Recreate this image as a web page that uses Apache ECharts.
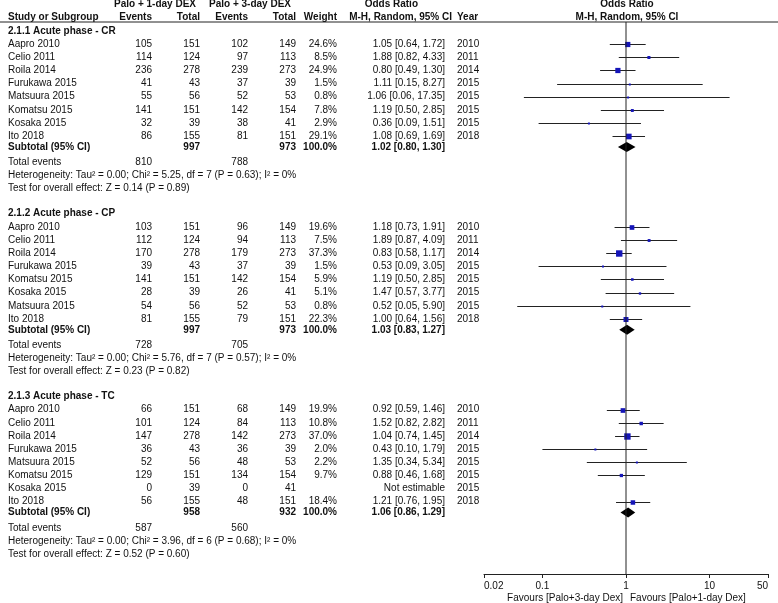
<!DOCTYPE html>
<html><head><meta charset="utf-8">
<script src="https://cdn.jsdelivr.net/npm/echarts@6/dist/echarts.min.js"></script>
<style>html,body{margin:0;padding:0;background:#fff}#c{width:778px;height:603px}</style>
</head><body><div id="c"></div>
<script>
// ---------------- DATA ----------------
const sectionTitles = ['2.1.1 Acute phase - CR', '2.1.2 Acute phase - CP', '2.1.3 Acute phase - TC'];
const studyNames = [
  ['Aapro 2010', 'Celio 2011', 'Roila 2014', 'Furukawa 2015', 'Matsuura 2015', 'Komatsu 2015', 'Kosaka 2015', 'Ito 2018'],
  ['Aapro 2010', 'Celio 2011', 'Roila 2014', 'Furukawa 2015', 'Komatsu 2015', 'Kosaka 2015', 'Matsuura 2015', 'Ito 2018'],
  ['Aapro 2010', 'Celio 2011', 'Roila 2014', 'Furukawa 2015', 'Matsuura 2015', 'Komatsu 2015', 'Kosaka 2015', 'Ito 2018']
];
const studyYears = [
  [2010, 2011, 2014, 2015, 2015, 2015, 2015, 2018],
  [2010, 2011, 2014, 2015, 2015, 2015, 2015, 2018],
  [2010, 2011, 2014, 2015, 2015, 2015, 2015, 2018]
];
const events1 = [[105, 114, 236, 41, 55, 141, 32, 86], [103, 112, 170, 39, 141, 28, 54, 81], [66, 101, 147, 36, 52, 129, 0, 56]];
const total1  = [[151, 124, 278, 43, 56, 151, 39, 155], [151, 124, 278, 43, 151, 39, 56, 155], [151, 124, 278, 43, 56, 151, 39, 155]];
const events2 = [[102, 97, 239, 37, 52, 142, 38, 81], [96, 94, 179, 37, 142, 26, 52, 79], [68, 84, 142, 36, 48, 134, 0, 48]];
const total2  = [[149, 113, 273, 39, 53, 154, 41, 151], [149, 113, 273, 39, 154, 41, 53, 151], [149, 113, 273, 39, 53, 154, 41, 151]];
const weights = [[24.6, 8.5, 24.9, 1.5, 0.8, 7.8, 2.9, 29.1], [19.6, 7.5, 37.3, 1.5, 5.9, 5.1, 0.8, 22.3], [19.9, 10.8, 37.0, 2.0, 2.2, 9.7, null, 18.4]];
const oddsRatio = [[1.05, 1.88, 0.80, 1.11, 1.06, 1.19, 0.36, 1.08], [1.18, 1.89, 0.83, 0.53, 1.19, 1.47, 0.52, 1.00], [0.92, 1.52, 1.04, 0.43, 1.35, 0.88, null, 1.21]];
const ciLow  = [[0.64, 0.82, 0.49, 0.15, 0.06, 0.50, 0.09, 0.69], [0.73, 0.87, 0.58, 0.09, 0.50, 0.57, 0.05, 0.64], [0.59, 0.82, 0.74, 0.10, 0.34, 0.46, null, 0.76]];
const ciHigh = [[1.72, 4.33, 1.30, 8.27, 17.35, 2.85, 1.51, 1.69], [1.91, 4.09, 1.17, 3.05, 2.85, 3.77, 5.90, 1.56], [1.46, 2.82, 1.45, 1.79, 5.34, 1.68, null, 1.95]];
const subTotal1 = [997, 997, 958];
const subTotal2 = [973, 973, 932];
const subOR = [1.02, 1.03, 1.06];
const subLow = [0.80, 0.83, 0.86];
const subHigh = [1.30, 1.27, 1.29];
const totalEvents1 = [810, 728, 587];
const totalEvents2 = [788, 705, 560];
const heterogeneity = [
  'Heterogeneity: Tau² = 0.00; Chi² = 5.25, df = 7 (P = 0.63); I² = 0%',
  'Heterogeneity: Tau² = 0.00; Chi² = 5.76, df = 7 (P = 0.57); I² = 0%',
  'Heterogeneity: Tau² = 0.00; Chi² = 3.96, df = 6 (P = 0.68); I² = 0%'
];
const overallTests = [
  'Test for overall effect: Z = 0.14 (P = 0.89)',
  'Test for overall effect: Z = 0.23 (P = 0.82)',
  'Test for overall effect: Z = 0.52 (P = 0.60)'
];
const axisTickLabels = [0.02, 0.1, 1, 10, 50];
const favoursLeft = 'Favours [Palo+3-day Dex]';
const favoursRight = 'Favours [Palo+1-day Dex]';

// ---------------- LAYOUT ----------------
const FONT = '"Liberation Sans", Arial, Helvetica, sans-serif';
const W = 778, H = 603, AXIS_Y = 574, HEADER_LINE_Y = 22;
const col = { name: 8, ev1: 152, tot1: 200, ev2: 248, tot2: 296, weight: 337, or: 445, year: 457 };
const f2 = v => v.toFixed(2);

const table = [];   // text items {x,y,text,align,bold}
const studyMarks = []; // [lo, hi, est, y, weight]
const diamonds = [];   // [lo, hi, est, y]
function T(x, y, text, align, bold) { table.push({ x, y, text: String(text), align: align || 'left', bold: !!bold }); }

// headers
T(155, 4.5, 'Palo + 1-day DEX', 'center', true);
T(250, 4.5, 'Palo + 3-day DEX', 'center', true);
T(418, 4.5, 'Odds Ratio', 'right', true);
T(col.name, 17, 'Study or Subgroup', 'left', true);
T(col.ev1, 17, 'Events', 'right', true);
T(col.tot1, 17, 'Total', 'right', true);
T(col.ev2, 17, 'Events', 'right', true);
T(col.tot2, 17, 'Total', 'right', true);
T(col.weight, 17, 'Weight', 'right', true);
T(452, 17, 'M-H, Random, 95% CI', 'right', true);
T(col.year, 17, 'Year', 'left', true);

let y = 30.8;
for (let s = 0; s < sectionTitles.length; s++) {
  T(col.name, y, sectionTitles[s], 'left', true);
  y += 13.3;
  for (let i = 0; i < studyNames[s].length; i++) {
    T(col.name, y, studyNames[s][i]);
    T(col.ev1, y, events1[s][i], 'right');
    T(col.tot1, y, total1[s][i], 'right');
    T(col.ev2, y, events2[s][i], 'right');
    T(col.tot2, y, total2[s][i], 'right');
    if (weights[s][i] != null) T(col.weight, y, weights[s][i].toFixed(1) + '%', 'right');
    if (oddsRatio[s][i] != null) {
      T(col.or, y, f2(oddsRatio[s][i]) + ' [' + f2(ciLow[s][i]) + ', ' + f2(ciHigh[s][i]) + ']', 'right');
      studyMarks.push([ciLow[s][i], ciHigh[s][i], oddsRatio[s][i], y, weights[s][i]]);
    } else {
      T(col.or, y, 'Not estimable', 'right');
    }
    T(col.year, y, studyYears[s][i]);
    if (i < studyNames[s].length - 1) y += 13.15;
  }
  y += 10.9;
  T(col.name, y, 'Subtotal (95% CI)', 'left', true);
  T(col.tot1, y, subTotal1[s], 'right', true);
  T(col.tot2, y, subTotal2[s], 'right', true);
  T(col.weight, y, '100.0%', 'right', true);
  T(col.or, y, f2(subOR[s]) + ' [' + f2(subLow[s]) + ', ' + f2(subHigh[s]) + ']', 'right', true);
  diamonds.push([subLow[s], subHigh[s], subOR[s], y]);
  y += 15.5;
  T(col.name, y, 'Total events');
  T(col.ev1, y, totalEvents1[s], 'right');
  T(col.ev2, y, totalEvents2[s], 'right');
  y += 13;
  T(col.name, y, heterogeneity[s]);
  y += 13;
  T(col.name, y, overallTests[s]);
  y += 25;
}

// texts tied to the odds ratio axis (value 1)
const plotTexts = [
  { v: 1, y: 4.5, text: 'Odds Ratio', align: 'center', bold: true, dx: 1 },
  { v: 1, y: 17, text: 'M-H, Random, 95% CI', align: 'center', bold: true, dx: 1 },
  { v: 1, y: 598, text: favoursLeft, align: 'right', bold: false, dx: -3 },
  { v: 1, y: 598, text: favoursRight, align: 'left', bold: false, dx: 4 }
];

const chart = echarts.init(document.getElementById('c'), null, { renderer: 'canvas' });
const crisp = v => Math.round(v) + 0.5;

chart.setOption({
  animation: false,
  backgroundColor: '#fff',
  grid: [
    { left: 0, right: 0, top: 0, bottom: 0 },
    { left: 484, right: 10, top: 0, bottom: H - AXIS_Y }
  ],
  xAxis: [
    { gridIndex: 0, type: 'value', min: 0, max: W, show: false },
    {
      gridIndex: 1, type: 'log', logBase: 10, position: 'bottom',
      min: axisTickLabels[0], max: axisTickLabels[axisTickLabels.length - 1],
      axisLine: { show: true, onZero: false, lineStyle: { color: '#222', width: 1 } },
      axisTick: { show: true, length: 4, lineStyle: { color: '#222' } },
      splitLine: { show: false },
      axisLabel: {
        color: '#111', fontSize: 10, fontFamily: FONT, margin: 7,
        alignMinLabel: 'left', alignMaxLabel: 'right',
        formatter: v => String(+v.toPrecision(3))
      }
    }
  ],
  yAxis: [
    { gridIndex: 0, type: 'value', min: 0, max: H, inverse: true, show: false },
    { gridIndex: 1, type: 'value', min: 0, max: AXIS_Y, inverse: true, show: false }
  ],
  series: [
    { // header rule
      type: 'line', xAxisIndex: 0, yAxisIndex: 0, symbol: 'none', silent: true,
      data: [[0, HEADER_LINE_Y], [W, HEADER_LINE_Y]],
      lineStyle: { color: '#222', width: 1 }
    },
    { // table text
      type: 'custom', xAxisIndex: 0, yAxisIndex: 0, silent: true,
      data: table.map(d => [d.x, d.y]),
      renderItem: (params, api) => {
        const d = table[params.dataIndex];
        const p = api.coord([d.x, d.y]);
        return {
          type: 'text', x: p[0], y: p[1],
          style: {
            text: d.text, fill: '#111', fontSize: 10, fontFamily: FONT,
            fontWeight: d.bold ? 'bold' : 'normal', align: d.align, verticalAlign: 'middle'
          }
        };
      }
    },
    { // line of no effect
      type: 'line', xAxisIndex: 1, yAxisIndex: 1, symbol: 'none', silent: true,
      data: [[1, HEADER_LINE_Y], [1, AXIS_Y]],
      lineStyle: { color: '#222', width: 1 }
    },
    { // studies
      type: 'custom', xAxisIndex: 1, yAxisIndex: 1, silent: true,
      data: studyMarks,
      renderItem: (params, api) => {
        const yy = api.value(3);
        const lo = api.coord([api.value(0), yy]);
        const hi = api.coord([api.value(1), yy]);
        const est = api.coord([api.value(2), yy]);
        const s = Math.max(2, Math.sqrt(api.value(4)) * 1.05);
        const cy = crisp(lo[1]);
        return {
          type: 'group', children: [
            { type: 'line', shape: { x1: lo[0], y1: cy, x2: hi[0], y2: cy }, style: { stroke: '#222', lineWidth: 1 } },
            { type: 'rect', shape: { x: est[0] - s / 2, y: cy - s / 2, width: s, height: s }, style: { fill: '#1515b8' } }
          ]
        };
      }
    },
    { // subtotal diamonds
      type: 'custom', xAxisIndex: 1, yAxisIndex: 1, silent: true,
      data: diamonds,
      renderItem: (params, api) => {
        const yy = api.value(3);
        const lo = api.coord([api.value(0), yy]);
        const hi = api.coord([api.value(1), yy]);
        const est = api.coord([api.value(2), yy]);
        const h = 5;
        return {
          type: 'polygon',
          shape: { points: [[lo[0], lo[1]], [est[0], est[1] - h], [hi[0], hi[1]], [est[0], est[1] + h]] },
          style: { fill: '#000' }
        };
      }
    },
    { // axis-anchored texts
      type: 'custom', xAxisIndex: 1, yAxisIndex: 1, silent: true, clip: false,
      data: plotTexts.map(d => [d.v, d.y]),
      renderItem: (params, api) => {
        const d = plotTexts[params.dataIndex];
        const p = api.coord([d.v, d.y]);
        return {
          type: 'text', x: p[0] + d.dx, y: p[1],
          style: {
            text: d.text, fill: '#111', fontSize: 10, fontFamily: FONT,
            fontWeight: d.bold ? 'bold' : 'normal', align: d.align, verticalAlign: 'middle'
          }
        };
      }
    }
  ]
});
</script>
</body></html>
